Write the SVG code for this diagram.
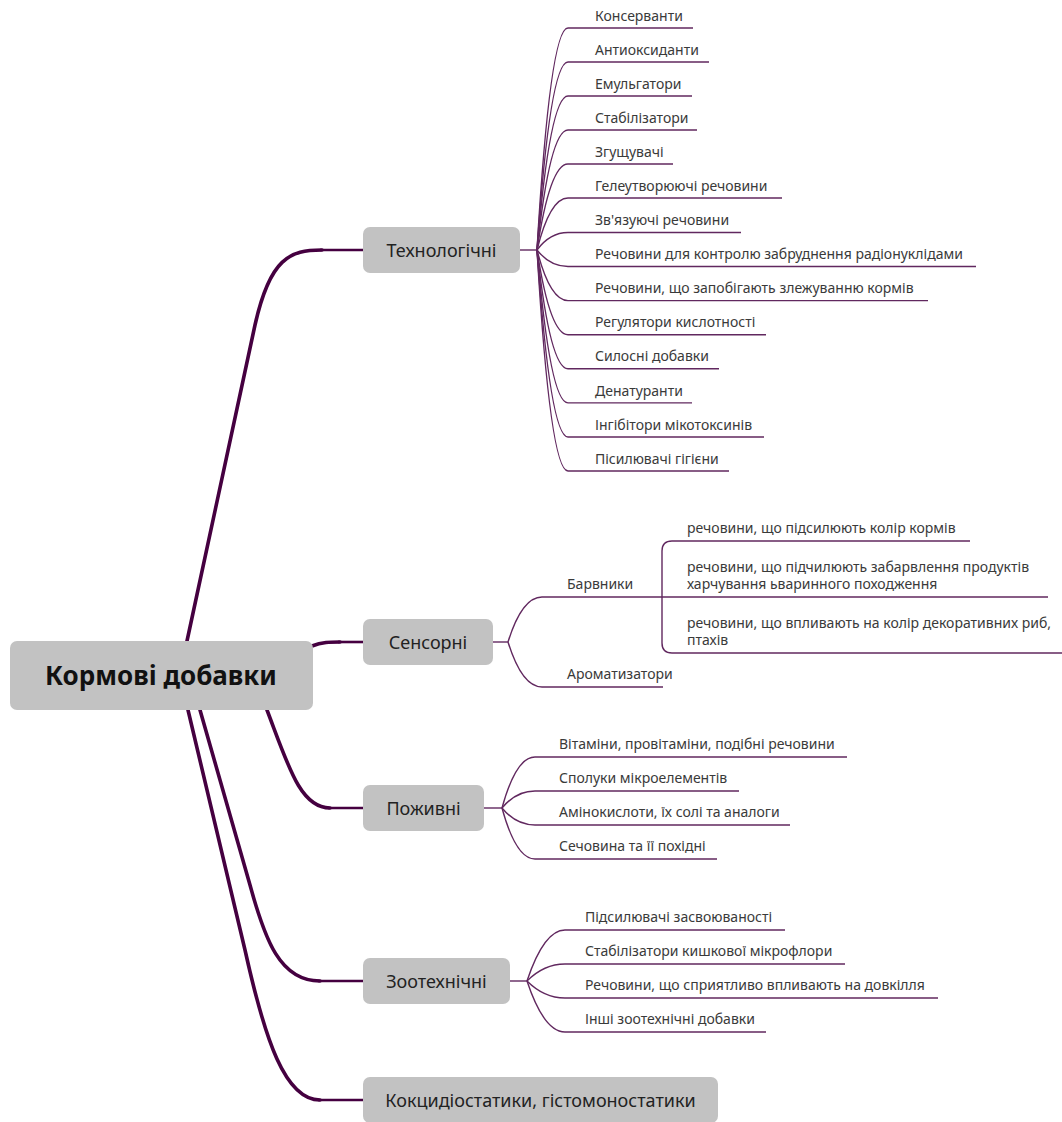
<svg xmlns="http://www.w3.org/2000/svg" width="1062" height="1122" viewBox="0 0 1062 1122">
<style>
  .box{fill:#c2c2c2}
  .nt{font-family:"Noto Sans","Open Sans",sans-serif;font-size:18px;fill:#222;text-anchor:middle}
  .rt{font-family:"Noto Sans","Open Sans",sans-serif;font-size:26px;font-weight:bold;fill:#111;text-anchor:middle}
  .lt{font-family:"Noto Sans","Open Sans",sans-serif;font-size:14px;fill:#3a3a3a}
  .main{fill:none;stroke:#450040;stroke-width:3.6;stroke-linecap:round}
  .mainh{fill:none;stroke:#450040;stroke-width:2.6}
  .leaf{fill:none;stroke:#61285f;stroke-width:1.4}
</style>
<rect width="1062" height="1122" fill="#ffffff"/>
<g id="connectors">
  <path class="main" d="M187,641 L255,325 C270,258 290,250 322,250"/>
  <path class="mainh" d="M320,250 H363"/>
  <path class="main" d="M312,646 C322,642 330,642 340,642"/>
  <path class="mainh" d="M338,642 H363"/>
  <path class="main" d="M267,710 C288,765 300,808 330,808"/>
  <path class="mainh" d="M328,808 H363"/>
  <path class="main" d="M200,710 L250,885 C265,940 280,981 320,981"/>
  <path class="mainh" d="M318,981 H363"/>
  <path class="main" d="M188,710 L245,950 C265,1040 285,1100 320,1100"/>
  <path class="mainh" d="M318,1100 H363"/>
  <!-- Технологічні -->
  <path class="leaf" d="M520,250 H537"/>
  <path class="leaf" d="M537,250 Q550,28 568,28 H693"/>
  <path class="leaf" d="M537,250 Q550,62 568,62 H709"/>
  <path class="leaf" d="M537,250 Q550,96 568,96 H692"/>
  <path class="leaf" d="M537,250 Q550,130 568,130 H697"/>
  <path class="leaf" d="M537,250 Q550,164 568,164 H673"/>
  <path class="leaf" d="M537,250 Q550,198 568,198 H782"/>
  <path class="leaf" d="M537,250 Q550,232.5 568,232.5 H741"/>
  <path class="leaf" d="M537,250 Q550,266.5 568,266.5 H976"/>
  <path class="leaf" d="M537,250 Q550,300.6 568,300.6 H928"/>
  <path class="leaf" d="M537,250 Q550,334.7 568,334.7 H766"/>
  <path class="leaf" d="M537,250 Q550,368.8 568,368.8 H719"/>
  <path class="leaf" d="M537,250 Q550,402.9 568,402.9 H692"/>
  <path class="leaf" d="M537,250 Q550,437 568,437 H764"/>
  <path class="leaf" d="M537,250 Q550,471 568,471 H729"/>
  <!-- Сенсорні -->
  <path class="leaf" d="M493,642 H508"/>
  <path class="leaf" d="M508,642 Q522,597 542,597 H1048"/>
  <path class="leaf" d="M508,642 Q522,687 542,687 H663"/>
  <path class="leaf" d="M970,541 H672 Q662,541 662,551 V643 Q662,653 672,653 H1062"/>
  <!-- Поживні -->
  <path class="leaf" d="M484,808 H502"/>
  <path class="leaf" d="M502,808 Q516,757 535,757 H847"/>
  <path class="leaf" d="M502,808 Q516,791 535,791 H739"/>
  <path class="leaf" d="M502,808 Q516,825 535,825 H790"/>
  <path class="leaf" d="M502,808 Q516,859 535,859 H717"/>
  <!-- Зоотехнічні -->
  <path class="leaf" d="M510,981 H527"/>
  <path class="leaf" d="M527,981 Q544,930 565,930 H785"/>
  <path class="leaf" d="M527,981 Q544,964 565,964 H845"/>
  <path class="leaf" d="M527,981 Q544,998 565,998 H938"/>
  <path class="leaf" d="M527,981 Q544,1032 565,1032 H766"/>
</g>
<g id="root">
  <rect class="box" x="10" y="641" width="303" height="69" rx="7"/>
  <text class="rt" x="161" y="685">Кормові добавки</text>
</g>
<g id="n-tech">
  <rect class="box" x="363" y="227" width="157" height="46" rx="7"/>
  <text class="nt" x="441.5" y="256.5">Технологічні</text>
</g>
<g id="n-sens">
  <rect class="box" x="363" y="619" width="130" height="46" rx="7"/>
  <text class="nt" x="428" y="648.5">Сенсорні</text>
</g>
<g id="n-pozh">
  <rect class="box" x="363" y="785" width="121" height="46" rx="7"/>
  <text class="nt" x="423.5" y="814.5">Поживні</text>
</g>
<g id="n-zoo">
  <rect class="box" x="363" y="958" width="147" height="46" rx="7"/>
  <text class="nt" x="436.5" y="987.5">Зоотехнічні</text>
</g>
<g id="n-kok">
  <rect class="box" x="363" y="1077" width="355" height="46" rx="7"/>
  <text class="nt" x="540.5" y="1106.5">Кокцидіостатики, гістомоностатики</text>
</g>
<g id="tech-leaves">
  <text class="lt" x="595" y="20.5">Консерванти</text>
  <text class="lt" x="595" y="54.5">Антиоксиданти</text>
  <text class="lt" x="595" y="88.5">Емульгатори</text>
  <text class="lt" x="595" y="122.5">Стабілізатори</text>
  <text class="lt" x="595" y="156.5">Згущувачі</text>
  <text class="lt" x="595" y="190.5">Гелеутворюючі речовини</text>
  <text class="lt" x="595" y="225">Зв'язуючі речовини</text>
  <text class="lt" x="595" y="259">Речовини для контролю забруднення радіонуклідами</text>
  <text class="lt" x="595" y="293">Речовини, що запобігають злежуванню кормів</text>
  <text class="lt" x="595" y="327">Регулятори кислотності</text>
  <text class="lt" x="595" y="361">Силосні добавки</text>
  <text class="lt" x="595" y="395.5">Денатуранти</text>
  <text class="lt" x="595" y="429.5">Інгібітори мікотоксинів</text>
  <text class="lt" x="595" y="463.5">Пісилювачі гігієни</text>
</g>
<g id="sens-leaves">
  <text class="lt" x="567" y="589">Барвники</text>
  <text class="lt" x="567" y="679">Ароматизатори</text>
  <text class="lt" x="687" y="533">речовини, що підсилюють колір кормів</text>
  <text class="lt" x="687" y="572">речовини, що підчилюють забарвлення продуктів</text>
  <text class="lt" x="687" y="589">харчування ьваринного походження</text>
  <text class="lt" x="687" y="628">речовини, що впливають на колір декоративних риб,</text>
  <text class="lt" x="687" y="645">птахів</text>
</g>
<g id="pozh-leaves">
  <text class="lt" x="559" y="749">Вітаміни, провітаміни, подібні речовини</text>
  <text class="lt" x="559" y="783">Сполуки мікроелементів</text>
  <text class="lt" x="559" y="817">Амінокислоти, їх солі та аналоги</text>
  <text class="lt" x="559" y="851">Сечовина та її похідні</text>
</g>
<g id="zoo-leaves">
  <text class="lt" x="585" y="922">Підсилювачі засвоюваності</text>
  <text class="lt" x="585" y="956">Стабілізатори кишкової мікрофлори</text>
  <text class="lt" x="585" y="990">Речовини, що сприятливо впливають на довкілля</text>
  <text class="lt" x="585" y="1024">Інші зоотехнічні добавки</text>
</g>
</svg>
